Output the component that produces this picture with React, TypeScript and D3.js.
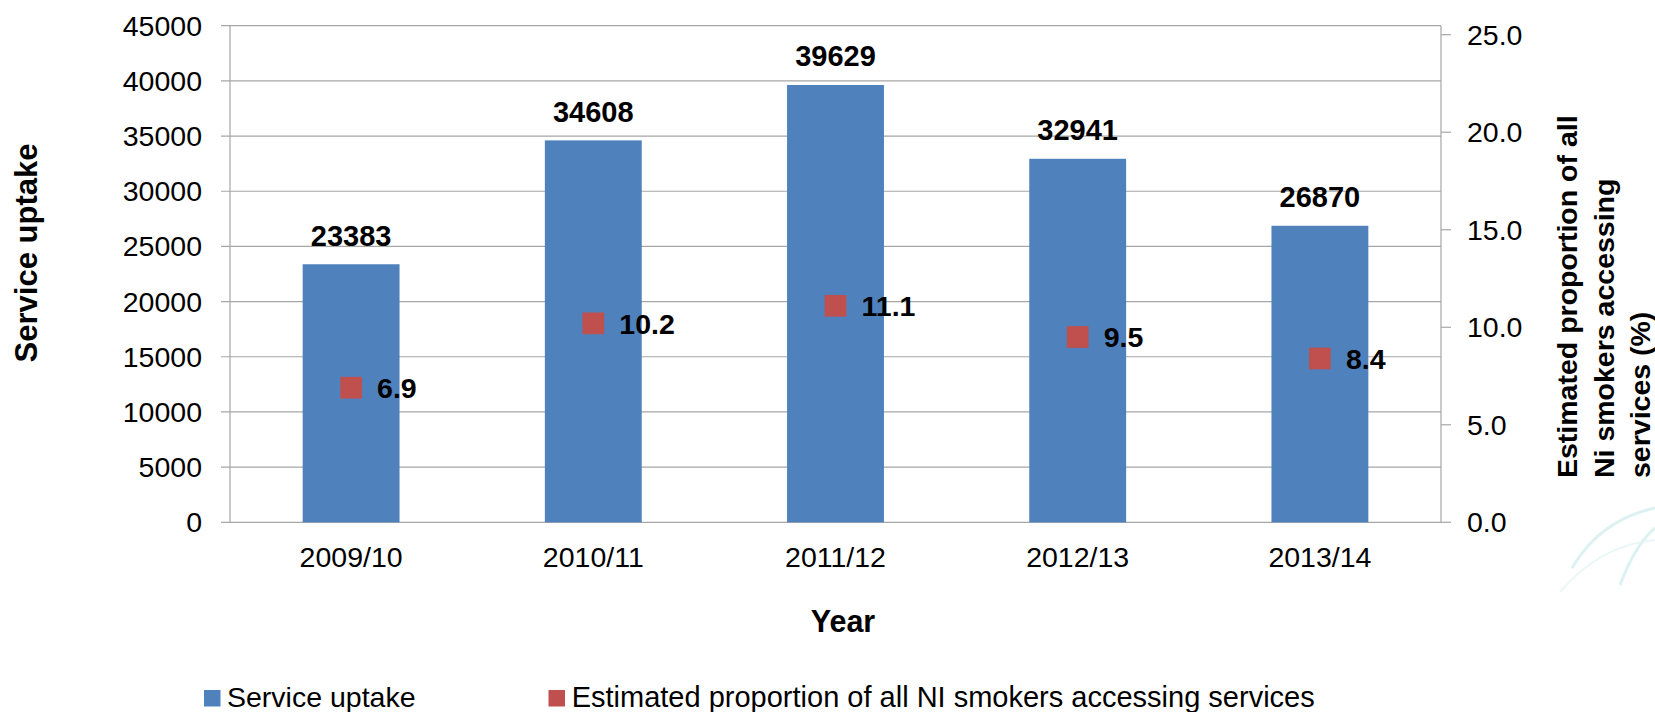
import React from "react";
import * as d3 from "d3";

const categories = ["2009/10", "2010/11", "2011/12", "2012/13", "2013/14"];
const uptake = [23383, 34608, 39629, 32941, 26870];
const proportion = [6.9, 10.2, 11.1, 9.5, 8.4];
const leftTicks = [0, 5000, 10000, 15000, 20000, 25000, 30000, 35000, 40000, 45000];
const rightTicks = [0, 5, 10, 15, 20, 25];
const seriesNames = ["Service uptake", "Estimated proportion of all NI smokers accessing services"];
const leftTitle = "Service uptake";
const xTitle = "Year";
const rightTitleLines = ["Estimated proportion of all", "Ni smokers accessing", "services (%)"];

const W = 1655;
const H = 712;
const plotLeft = 230;
const plotRight = 1441;
const plotTop = 25.7;
const plotBottom = 522.3;
const FONT = "'Liberation Sans', Arial, sans-serif";
const BLUE = "#4F81BD";
const RED = "#C0504D";
const GRID = "#a6a6a6";

export default function App() {
  const x = d3.scaleBand<string>().domain(categories).range([plotLeft, plotRight]).padding(0);
  const y = d3.scaleLinear().domain([0, 45000]).range([plotBottom, plotTop]);
  const y2 = d3.scaleLinear().domain([0, 25]).range([plotBottom, 34.7]);
  const barW = x.bandwidth() * 0.4;
  const mk = 21.7;
  const cx = (c: string) => (x(c) as number) + x.bandwidth() / 2;

  return (
    <svg
      width={W}
      height={H}
      style={{ position: "absolute", left: 0, top: 0, background: "#fff" }}
      fontFamily={FONT}
    >
      <rect x={0} y={0} width={W} height={H} fill="#fff" />
      {/* watermark arcs */}
      <path d="M1572,568 Q1600,520 1655,508" fill="none" stroke="#d4eeee" strokeWidth={3} opacity={0.8} />
      <path d="M1620,585 Q1635,545 1655,528" fill="none" stroke="#d4eeee" strokeWidth={3} opacity={0.8} />
      <path d="M1560,592 Q1600,545 1655,540" fill="none" stroke="#e2f3f3" strokeWidth={2} opacity={0.7} />

      {/* gridlines and left ticks */}
      {leftTicks.map((t) => (
        <g key={"g" + t}>
          <line x1={221} x2={plotRight} y1={y(t)} y2={y(t)} stroke={GRID} strokeWidth={1.2} />
          <text x={202} y={y(t)} dy="0.35em" textAnchor="end" fontSize={28.5} fill="#000">
            {t}
          </text>
        </g>
      ))}
      {/* axes lines */}
      <line x1={plotLeft} x2={plotLeft} y1={plotTop} y2={plotBottom} stroke={GRID} strokeWidth={1.2} />
      <line x1={plotRight} x2={plotRight} y1={plotTop} y2={plotBottom} stroke={GRID} strokeWidth={1.2} />
      {rightTicks.map((t) => (
        <g key={"r" + t}>
          <line x1={plotRight} x2={1451} y1={y2(t)} y2={y2(t)} stroke={GRID} strokeWidth={1.2} />
          <text x={1467} y={y2(t)} dy="0.35em" textAnchor="start" fontSize={28.5} fill="#000">
            {t.toFixed(1)}
          </text>
        </g>
      ))}

      {/* bars */}
      {categories.map((c, i) => (
        <rect
          key={"b" + c}
          x={cx(c) - barW / 2}
          y={y(uptake[i])}
          width={barW}
          height={plotBottom - y(uptake[i])}
          fill={BLUE}
        />
      ))}
      {/* bar labels */}
      {categories.map((c, i) => (
        <text
          key={"bl" + c}
          x={cx(c)}
          y={y(uptake[i]) - 18.5}
          textAnchor="middle"
          fontSize={29}
          fontWeight="bold"
          fill="#000"
        >
          {uptake[i]}
        </text>
      ))}
      {/* markers */}
      {categories.map((c, i) => (
        <g key={"m" + c}>
          <rect x={cx(c) - mk / 2} y={y2(proportion[i]) - mk / 2} width={mk} height={mk} fill={RED} />
          <text
            x={cx(c) + 26}
            y={y2(proportion[i])}
            dy="0.36em"
            textAnchor="start"
            fontSize={28.5}
            fontWeight="bold"
            fill="#000"
          >
            {proportion[i].toFixed(1)}
          </text>
        </g>
      ))}

      {/* x labels */}
      {categories.map((c) => (
        <text key={"x" + c} x={cx(c)} y={566.5} textAnchor="middle" fontSize={28.5} fill="#000">
          {c}
        </text>
      ))}

      {/* axis titles */}
      <text x={843} y={631.7} textAnchor="middle" fontSize={30.5} fontWeight="bold" fill="#000">
        {xTitle}
      </text>
      <text
        transform={`translate(37.3,253) rotate(-90)`}
        textAnchor="middle"
        fontSize={31}
        fontWeight="bold"
        fill="#000"
      >
        {leftTitle}
      </text>
      {rightTitleLines.map((l, i) => (
        <text
          key={"rt" + i}
          transform={`translate(${1577 + i * 36.5},478) rotate(-90)`}
          textAnchor="start"
          fontSize={28.5}
          fontWeight="bold"
          fill="#000"
        >
          {l}
        </text>
      ))}

      {/* legend */}
      <rect x={204} y={690} width={16.5} height={16.5} fill={BLUE} />
      <text x={227} y={707} fontSize={28.5} fill="#000">
        {seriesNames[0]}
      </text>
      <rect x={548.5} y={690} width={16.5} height={16.5} fill={RED} />
      <text x={571.7} y={707} fontSize={29} fill="#000">
        {seriesNames[1]}
      </text>
    </svg>
  );
}
